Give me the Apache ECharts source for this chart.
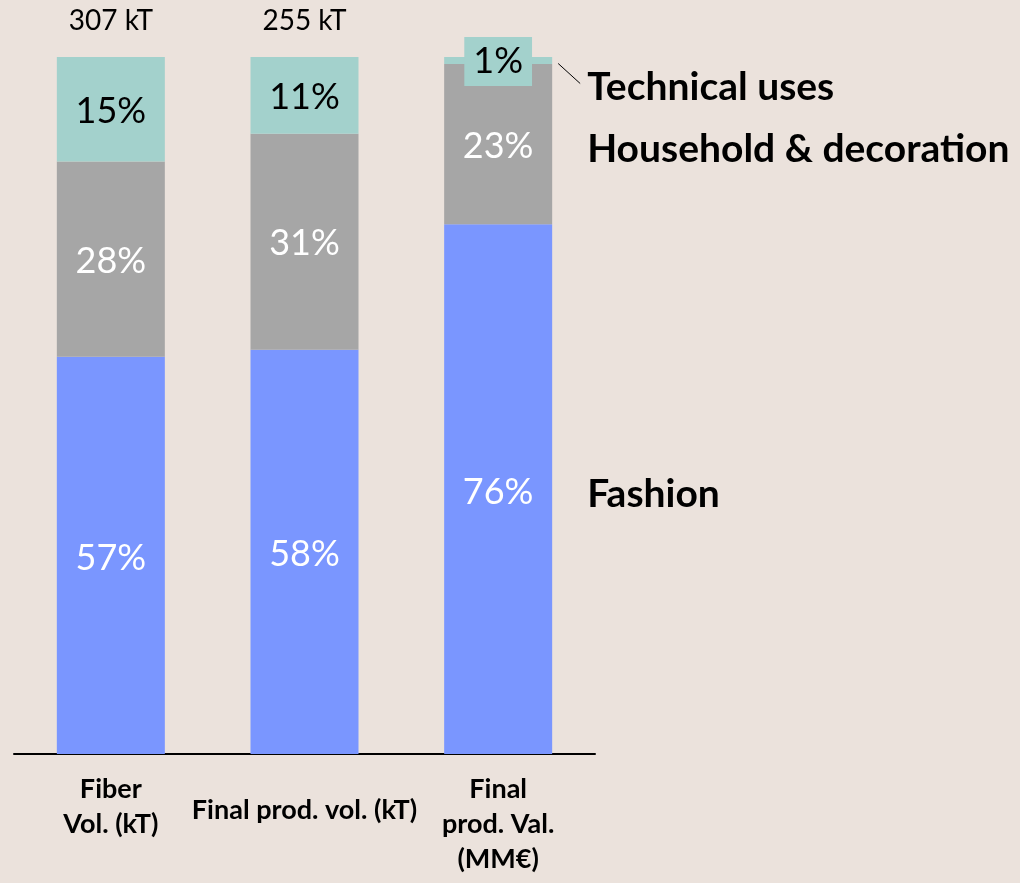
<!DOCTYPE html>
<html><head><meta charset="utf-8">
<script src="https://cdn.jsdelivr.net/npm/echarts@6/dist/echarts.min.js"></script>
<style>html,body{margin:0;padding:0;background:#EBE2DC;}#c{width:1020px;height:883px;}</style>
</head><body><div id="c"></div>
<script>
const categories = ['Fiber\nVol. (kT)', 'Final prod. vol. (kT)', 'Final\nprod. Val.\n(MM€)'];
const fashion = [57, 58, 76];
const household = [28, 31, 23];
const technical = [15, 11, 1];
const totals = ['307 kT', '255 kT', ''];
const seriesNames = ['Fashion', 'Household & decoration', 'Technical uses'];

const FONT = 'Lato';
const chart = echarts.init(document.getElementById('c'));
const pct = p => p.value + '%';

const option = {
  backgroundColor: '#EBE2DC',
  animation: false,
  grid: { left: 14, right: 425, top: 57, bottom: 129 },
  xAxis: {
    type: 'category',
    data: categories.map((c, i) => i === 1 ? { value: c, textStyle: { padding: [21, 0, 0, 0] } } : c),
    axisLine: { lineStyle: { color: '#000', width: 2 } },
    axisTick: { show: false },
    axisLabel: { interval: 0, color: '#000', fontFamily: FONT, fontWeight: 'bold', fontSize: 27, lineHeight: 35, verticalAlign: 'top', margin: 18 }
  },
  yAxis: { type: 'value', min: 0, max: 100, show: false },
  series: [
    { name: seriesNames[0], type: 'bar', stack: 's', barWidth: 108, data: fashion,
      itemStyle: { color: '#7A96FF' },
      label: { show: true, position: 'inside', offset: [0, 3], formatter: pct, color: '#fff', fontFamily: FONT, fontSize: 36 } },
    { name: seriesNames[1], type: 'bar', stack: 's', barWidth: 108, data: household,
      itemStyle: { color: '#A6A6A6' },
      label: { show: true, position: 'inside', offset: [0, 2], formatter: pct, color: '#fff', fontFamily: FONT, fontSize: 36 } },
    { name: seriesNames[2], type: 'bar', stack: 's', barWidth: 108,
      data: technical.map((v, i) => i === 2 ? { value: v, label: { backgroundColor: '#A3D1CC', padding: [4, 9, 9, 9], offset: [0, 1] } } : v),
      itemStyle: { color: '#A3D1CC' },
      label: { show: true, position: 'inside', offset: [0, 2], formatter: pct, color: '#000', fontFamily: FONT, fontSize: 36 } },
    { name: 'Total', type: 'bar', stack: 's', barWidth: 108, data: totals.map(() => 0),
      label: { show: true, position: 'top', distance: 22, formatter: p => totals[p.dataIndex], color: '#000', fontFamily: FONT, fontSize: 28 } }
  ]
};
chart.setOption(option);

function drawSideLabels() {
  const last = categories.length - 1;
  const cx = chart.convertToPixel({ xAxisIndex: 0 }, last);
  const x = cx + 54 + 35;
  const yF = chart.convertToPixel({ yAxisIndex: 0 }, fashion[last] / 2);
  const yH = chart.convertToPixel({ yAxisIndex: 0 }, fashion[last] + household[last] / 2);
  const yT = chart.convertToPixel({ yAxisIndex: 0 }, fashion[last] + household[last] + technical[last] / 2);
  const ts = { fill: '#000', font: 'bold 39px ' + FONT, textVerticalAlign: 'middle', textAlign: 'left' };
  chart.setOption({
    graphic: [
      { type: 'text', style: Object.assign({ text: seriesNames[0] }, ts), x: x, y: yF + 5 },
      { type: 'text', style: Object.assign({ text: seriesNames[1] }, ts), x: x, y: yH + 5 },
      { type: 'text', style: Object.assign({ text: seriesNames[2] }, ts), x: x, y: yT + 27 },
      { type: 'line', shape: { x1: cx + 60, y1: yT + 3, x2: cx + 82, y2: yT + 23 }, style: { stroke: '#000', lineWidth: 1 } }
    ]
  });
}
drawSideLabels();
</script></body></html>
